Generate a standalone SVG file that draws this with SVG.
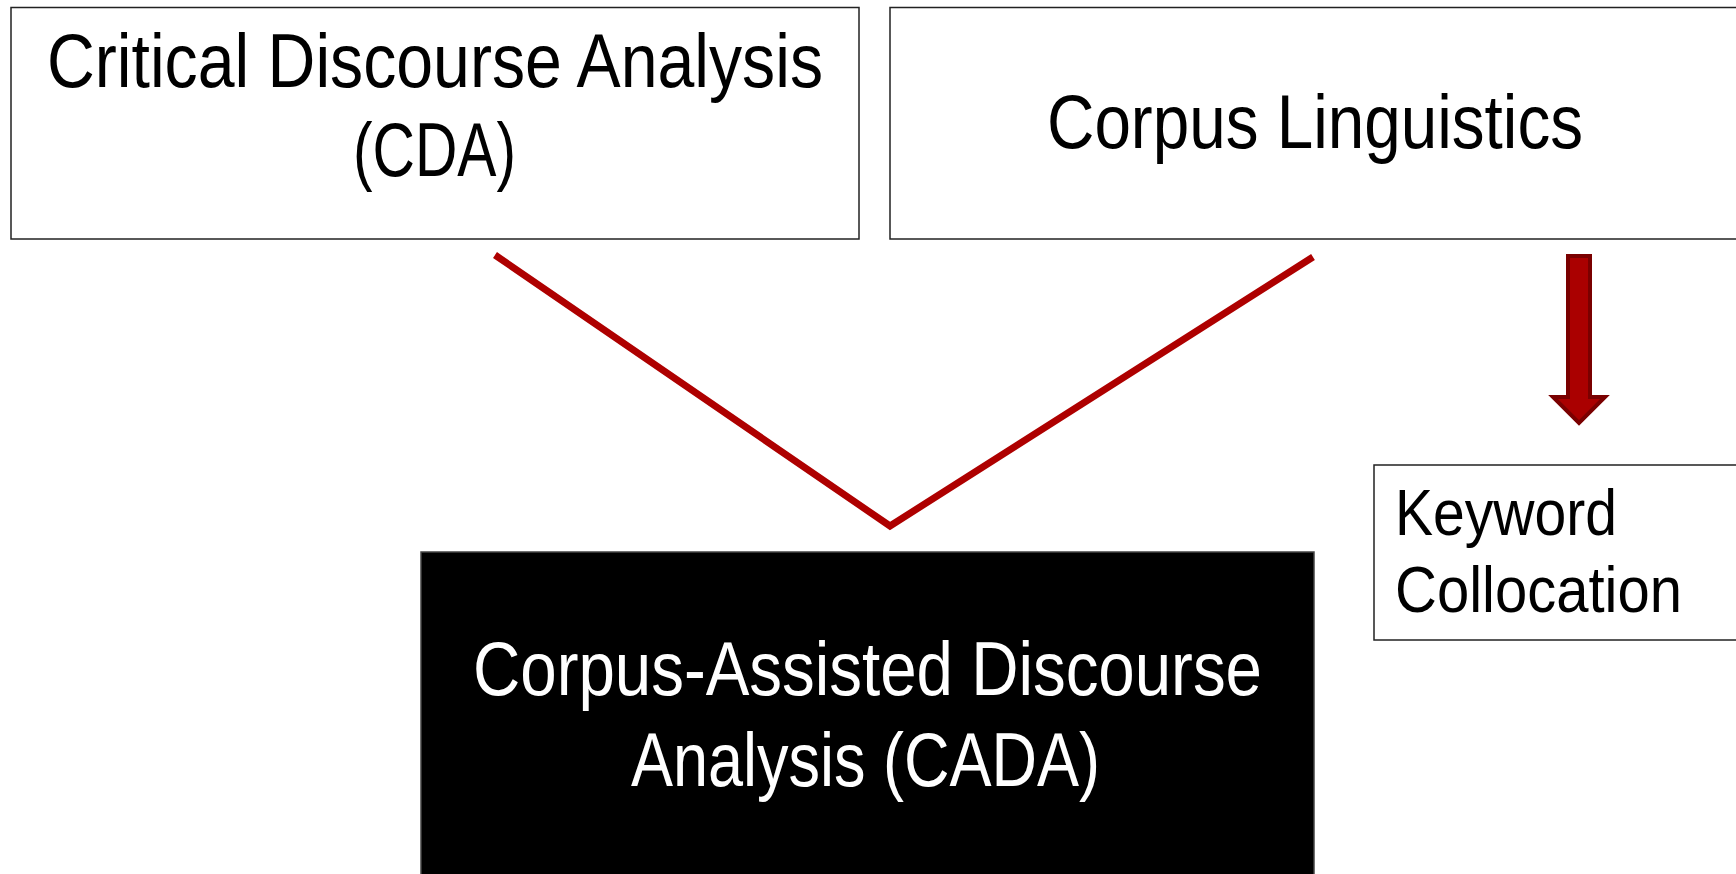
<svg xmlns="http://www.w3.org/2000/svg" width="1736" height="874" viewBox="0 0 1736 874">
  <style>
    .box { fill: #ffffff; stroke: #222222; stroke-width: 1.5; }
    .dark { fill: #000000; stroke: #444444; stroke-width: 1.5; }
    .t { font-family: "Liberation Sans", Arial, sans-serif; font-size: 76px; fill: #000000; }
    .tw { fill: #ffffff; }
    .tk { font-family: "Liberation Sans", Arial, sans-serif; font-size: 64px; fill: #000000; }
    .conn { fill: none; stroke: #AE0000; stroke-width: 7; }
    .arrow { fill: #AA0000; stroke: #7A0000; stroke-width: 4; stroke-linejoin: miter; }
  </style>
  <rect width="1736" height="874" fill="#ffffff"/>
  <g id="connectors">
    <polyline class="conn" points="495,255 890,526 1313,257"/>
    <path class="arrow" d="M1568,256 L1590,256 L1590,397 L1605,397 L1579,423 L1553,397 L1568,397 Z"/>
  </g>
  <g id="cda">
    <rect class="box" x="11" y="7.5" width="848" height="231.5"/>
    <text class="t" x="435" y="87" text-anchor="middle" textLength="776" lengthAdjust="spacingAndGlyphs">Critical Discourse Analysis</text>
    <text class="t" x="434.5" y="176" text-anchor="middle" textLength="163" lengthAdjust="spacingAndGlyphs">(CDA)</text>
  </g>
  <g id="corpus-linguistics">
    <rect class="box" x="890" y="7.5" width="860" height="231.5"/>
    <text class="t" x="1315" y="148" text-anchor="middle" textLength="536" lengthAdjust="spacingAndGlyphs">Corpus Linguistics</text>
  </g>
  <g id="cada">
    <rect class="dark" x="421" y="552" width="893" height="330"/>
    <text class="t tw" x="867.5" y="695" text-anchor="middle" textLength="789" lengthAdjust="spacingAndGlyphs">Corpus-Assisted Discourse</text>
    <text class="t tw" x="865.5" y="786" text-anchor="middle" textLength="469" lengthAdjust="spacingAndGlyphs">Analysis (CADA)</text>
  </g>
  <g id="keyword-collocation">
    <rect class="box" x="1374" y="465" width="380" height="175"/>
    <text class="tk" x="1395" y="535" textLength="222" lengthAdjust="spacingAndGlyphs">Keyword</text>
    <text class="tk" x="1395" y="612" textLength="287" lengthAdjust="spacingAndGlyphs">Collocation</text>
  </g>
</svg>
